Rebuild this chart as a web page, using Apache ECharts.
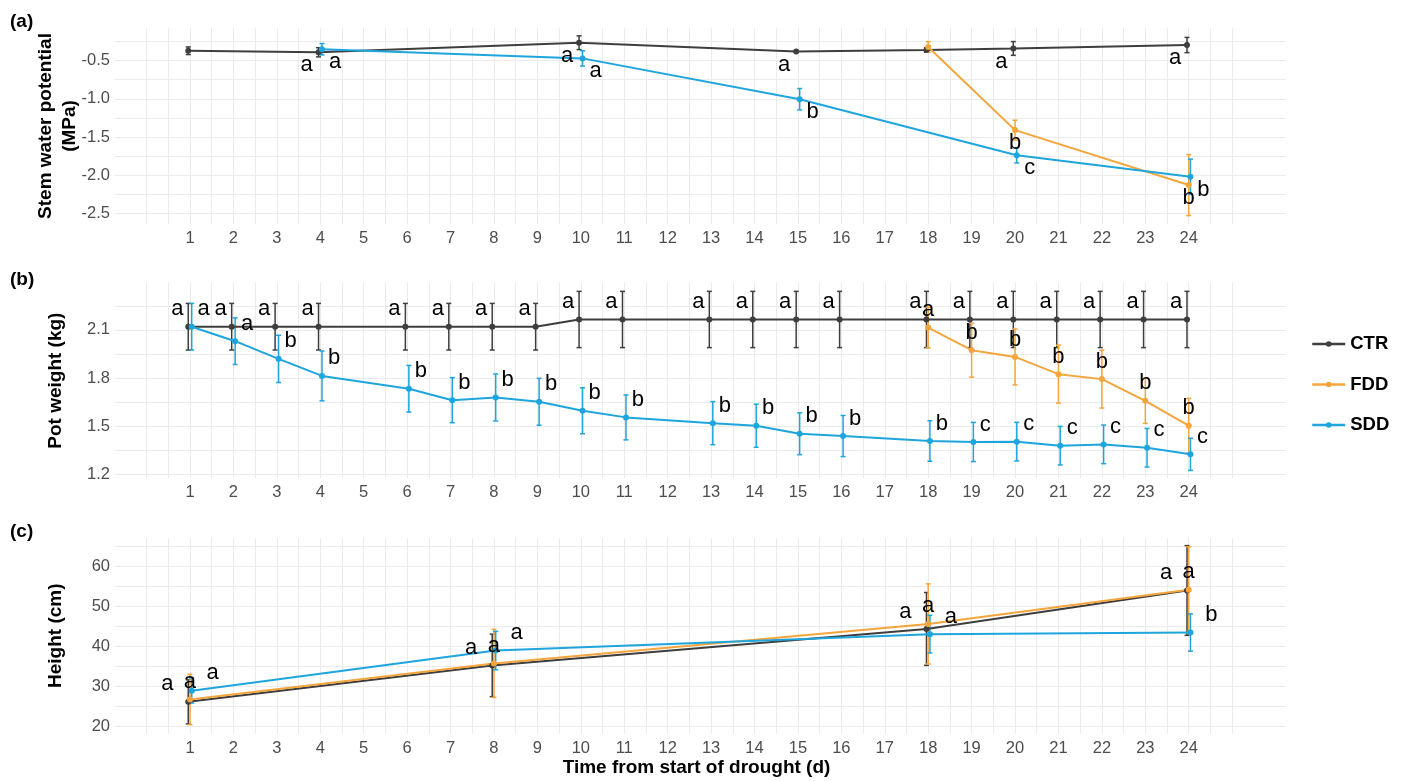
<!DOCTYPE html>
<html><head><meta charset="utf-8">
<script src="https://cdn.jsdelivr.net/npm/echarts@6/dist/echarts.min.js"></script>
<style>html,body{margin:0;padding:0;background:#fff}#c{width:1404px;height:781px}</style>
</head><body><div id="c"></div>
<script>
// ---------- x axis ----------
const dayTicks = [1,2,3,4,5,6,7,8,9,10,11,12,13,14,15,16,17,18,19,20,21,22,23,24];
const dayGridLines = [0,0.5,1,1.5,2,2.5,3,3.5,4,4.5,5,5.5,6,6.5,7,7.5,8,8.5,9,9.5,10,10.5,11,11.5,12,12.5,13,13.5,14,14.5,15,15.5,16,16.5,17,17.5,18,18.5,19,19.5,20,20.5,21,21.5,22,22.5,23,23.5,24,24.5,25];

// ---------- (a) Stem water potential (MPa) ----------
const swpTicks = [-2.5,-2.0,-1.5,-1.0,-0.5];
const swpGridLines = [-2.5,-2.25,-2.0,-1.75,-1.5,-1.25,-1.0,-0.75,-0.5,-0.25];
const swpCtrDays = [1,4,10,15,18,20,24];
const swpCtrMean = [-0.37,-0.39,-0.265,-0.38,-0.36,-0.34,-0.295];
const swpCtrSe   = [0.05,0.06,0.09,0.01,0.03,0.09,0.10];
const swpCtrLetters = ['','a','a','a','','a','a'];
const swpFddDays = [18,20,24];
const swpFddMean = [-0.32,-1.41,-2.13];
const swpFddSe   = [0.07,0.13,0.40];
const swpFddLetters = ['','b','b'];
const swpSddDays = [4,10,15,20,24];
const swpSddMean = [-0.35,-0.47,-1.005,-1.74,-2.02];
const swpSddSe   = [0.075,0.10,0.14,0.10,0.23];
const swpSddLetters = ['a','a','b','c','b'];

// ---------- (b) Pot weight (kg) ----------
const potTicks = [1.2,1.5,1.8,2.1];
const potGridLines = [1.2,1.35,1.5,1.65,1.8,1.95,2.1,2.25];
const potDays = [1,2,3,4,6,7,8,9,10,11,13,14,15,16,18,19,20,21,22,23,24];
const potCtrMean = [2.12,2.12,2.12,2.12,2.12,2.12,2.12,2.12,2.165,2.165,2.165,2.165,2.165,2.165,2.165,2.165,2.165,2.165,2.165,2.165,2.165];
const potCtrSe   = [0.145,0.145,0.145,0.145,0.145,0.145,0.145,0.145,0.175,0.175,0.175,0.175,0.175,0.175,0.175,0.175,0.175,0.175,0.175,0.175,0.175];
const potCtrLetters = ['a','a','a','a','a','a','a','a','a','a','a','a','a','a','a','a','a','a','a','a','a'];
const potSddMean = [2.12,2.03,1.92,1.814,1.734,1.663,1.68,1.653,1.597,1.556,1.52,1.504,1.454,1.44,1.409,1.403,1.405,1.38,1.388,1.367,1.326];
const potSddSe   = [0.145,0.145,0.147,0.155,0.145,0.14,0.146,0.146,0.143,0.14,0.134,0.134,0.13,0.128,0.126,0.122,0.12,0.12,0.12,0.12,0.10];
const potSddLetters = ['a','a','b','b','b','b','b','b','b','b','b','b','b','b','b','c','c','c','c','c','c'];
const potFddDays = [18,19,20,21,22,23,24];
const potFddMean = [2.115,1.974,1.932,1.825,1.794,1.659,1.504];
const potFddSe   = [0.126,0.168,0.174,0.18,0.18,0.14,0.17];
const potFddLetters = ['a','b','b','b','b','b','b'];

// ---------- (c) Height (cm) ----------
const hTicks = [20,30,40,50,60];
const hGridLines = [20,25,30,35,40,45,50,55,60,65];
const hDays = [1,8,18,24];
const hCtrMean = [26.2,35.3,44.4,54.0];
const hCtrSe   = [5.5,7.8,9.1,11.2];
const hCtrLetters = ['a','a','a','a'];
const hFddMean = [26.8,35.8,45.65,54.2];
const hFddSe   = [6.3,8.5,10.0,10.7];
const hFddLetters = ['a','a','a','a'];
const hSddMean = [29.0,39.0,43.1,43.5];
const hSddSe   = [3.1,4.8,4.7,4.65];
const hSddLetters = ['a','a','a','b'];

// ---------- styling ----------
const FONT = "'Liberation Sans', Arial, sans-serif";
const COLORS = {CTR:'#3e3e3e', FDD:'#F4A63C', SDD:'#1FA5DD'};
const DODGE = {CTR:-0.04, FDD:0, SDD:0.04};

const panels = [
  {label:'(a)', labelY:21.7, grid:{left:115,right:118,top:28,height:196}, yMin:-2.64, yMax:-0.072,
   ticks:swpTicks, lines:swpGridLines, name:'Stem water potential\n(MPa)', nameGap:33, dx:{CTR:-12,FDD:0,SDD:13}, dy:13,
   groups:[
     {key:'CTR', days:swpCtrDays, mean:swpCtrMean, se:swpCtrSe, letters:swpCtrLetters},
     {key:'FDD', days:swpFddDays, mean:swpFddMean, se:swpFddSe, letters:swpFddLetters},
     {key:'SDD', days:swpSddDays, mean:swpSddMean, se:swpSddSe, letters:swpSddLetters}]},
  {label:'(b)', labelY:280, grid:{left:115,right:118,top:283,height:195.3}, yMin:1.177, yMax:2.392,
   ticks:potTicks, lines:potGridLines, name:'Pot weight (kg)', nameGap:47, dx:{CTR:-11,FDD:0,SDD:12}, dy:-17.5,
   groups:[
     {key:'CTR', days:potDays, mean:potCtrMean, se:potCtrSe, letters:potCtrLetters},
     {key:'FDD', days:potFddDays, mean:potFddMean, se:potFddSe, letters:potFddLetters},
     {key:'SDD', days:potDays, mean:potSddMean, se:potSddSe, letters:potSddLetters}]},
  {label:'(c)', labelY:531.7, grid:{left:115,right:118,top:538,height:196}, yMin:18.3, yMax:67.1,
   ticks:hTicks, lines:hGridLines, name:'Height (cm)', nameGap:47, dx:{CTR:-21,FDD:0,SDD:21}, dy:-17.5,
   groups:[
     {key:'CTR', days:hDays, mean:hCtrMean, se:hCtrSe, letters:hCtrLetters},
     {key:'FDD', days:hDays, mean:hFddMean, se:hFddSe, letters:hFddLetters},
     {key:'SDD', days:hDays, mean:hSddMean, se:hSddSe, letters:hSddLetters}]}
];

const grids=[], xAxes=[], yAxes=[], series=[], graphics=[];
panels.forEach((p, pi) => {
  grids.push(p.grid);
  xAxes.push({
    type:'value', gridIndex:pi, min:-0.727, max:26.24,
    axisLine:{show:false},
    axisTick:{show:false, customValues:dayGridLines},
    axisLabel:{customValues:dayTicks, color:'#4d4d4d', fontSize:16.5, fontFamily:FONT, margin:6},
    splitLine:{show:true, lineStyle:{color:'#ebebeb', width:1}},
    name: pi===2 ? 'Time from start of drought (d)' : '',
    nameLocation:'middle', nameGap:22.5, nameMoveOverlap:false,
    nameTextStyle:{fontSize:19, fontWeight:'bold', color:'#000', fontFamily:FONT, lineHeight:24, padding:[0,8,0,0]}
  });
  yAxes.push({
    type:'value', gridIndex:pi, min:p.yMin, max:p.yMax,
    axisLine:{show:false},
    axisTick:{show:false, customValues:p.lines},
    axisLabel:{customValues:p.ticks, color:'#4d4d4d', fontSize:16.5, fontFamily:FONT, margin:5,
      formatter: v => (pi===2 ? String(Math.round(v)) : Number(v).toFixed(1))},
    splitLine:{show:true, lineStyle:{color:'#ebebeb', width:1}},
    name:p.name, nameLocation:'middle', nameGap:p.nameGap, nameMoveOverlap:false,
    nameTextStyle:{fontSize:19, fontWeight:'bold', color:'#000', fontFamily:FONT, lineHeight:24}
  });
  graphics.push({type:'text', x:10, y:p.labelY, style:{text:p.label, font:'bold 19px '+FONT, fill:'#000', verticalAlign:'middle'}});

  p.groups.forEach(g => {
    const col = COLORS[g.key];
    const pts = g.days.map((d,i) => [d + DODGE[g.key], g.mean[i], g.se[i]]);
    // error bars
    series.push({
      type:'custom', name:g.key+' SE', xAxisIndex:pi, yAxisIndex:pi, z:2,
      data:pts, encode:{x:0, y:1},
      renderItem:(params, api) => {
        const x=api.value(0), m=api.value(1), s=api.value(2);
        const t=api.coord([x,m+s]), b=api.coord([x,m-s]);
        const cap=2.5, st={stroke:col, lineWidth:1.5};
        return {type:'group', children:[
          {type:'line', shape:{x1:t[0],y1:t[1],x2:b[0],y2:b[1]}, style:st},
          {type:'line', shape:{x1:t[0]-cap,y1:t[1],x2:t[0]+cap,y2:t[1]}, style:st},
          {type:'line', shape:{x1:b[0]-cap,y1:b[1],x2:b[0]+cap,y2:b[1]}, style:st}
        ]};
      }
    });
    // mean line + points
    series.push({
      type:'line', name:g.key, xAxisIndex:pi, yAxisIndex:pi, z:3,
      data:pts.map(q => [q[0], q[1]]),
      symbol:'circle', symbolSize:6, showSymbol:true,
      itemStyle:{color:col}, lineStyle:{color:col, width:2},
      emphasis:{disabled:true}
    });
    // significance letters
    series.push({
      type:'custom', name:g.key+' letters', xAxisIndex:pi, yAxisIndex:pi, z:5,
      data:pts.map(q => [q[0], q[1]]), encode:{x:0, y:1}, clip:false,
      renderItem:(params, api) => {
        const txt = g.letters[params.dataIndex];
        if (!txt) return null;
        const c = api.coord([api.value(0), api.value(1)]);
        return {type:'text', x:c[0]+p.dx[g.key], y:c[1]+p.dy,
          style:{text:txt, fill:'#000', font:'22px '+FONT, align:'center', verticalAlign:'middle'}};
      }
    });
  });
});

const chart = echarts.init(document.getElementById('c'));
chart.setOption({
  animation:false,
  backgroundColor:'#fff',
  grid:grids, xAxis:xAxes, yAxis:yAxes, series:series, graphic:graphics,
  legend:{
    data:['CTR','FDD','SDD'], orient:'vertical', left:1306, top:329,
    itemWidth:33, itemHeight:7, itemGap:20.5, selectedMode:false,
    lineStyle:{width:2.5},
    textStyle:{fontSize:18.5, fontWeight:'bold', color:'#000', fontFamily:FONT, lineHeight:20}
  }
});
</script>
</body></html>
